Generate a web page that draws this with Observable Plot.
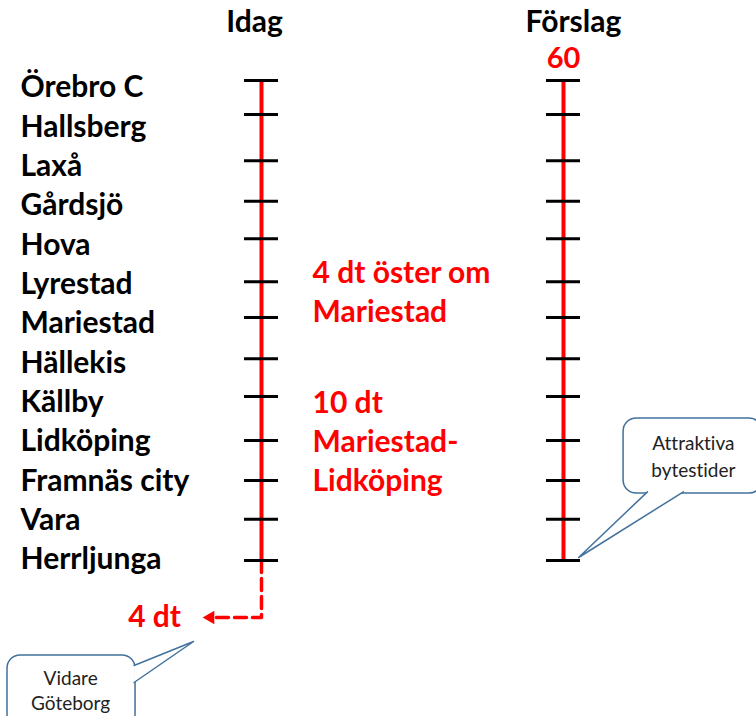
<!DOCTYPE html>
<html>
<head>
<meta charset="utf-8">
<script src="https://cdn.jsdelivr.net/npm/d3@7"></script>
<script src="https://cdn.jsdelivr.net/npm/@observablehq/plot@0.6"></script>
<style>
  html, body { margin: 0; padding: 0; background: #fff; }
  #chart svg { display: block; }
  #chart svg text { font-variant-ligatures: none; }
</style>
</head>
<body>
<div id="chart"></div>
<script>
// ---- data ----
const stations = ["Örebro C", "Hallsberg", "Laxå", "Gårdsjö", "Hova", "Lyrestad", "Mariestad",
  "Hällekis", "Källby", "Lidköping", "Framnäs city", "Vara", "Herrljunga"];
// travel time (minutes) from Örebro C
const stationTime = [0, 10.2, 24.1, 36.2, 47.5, 60.4, 71.1, 83.5, 94.8, 108, 120, 131.6, 144];
const columns = ["Idag", "Förslag"];
const forslagLabel = ["60"];
const idagNotes = ["4 dt öster om\nMariestad", "10 dt\nMariestad-\nLidköping"];
const southLabel = ["4 dt"];
const calloutTexts = ["Attraktiva\nbytestider", "Vidare\nGöteborg"];

// ---- layout (abstract units: x = column, y = minutes) ----
const colX = {"Idag": 1, "Förslag": 2};
const tickHalf = 0.0563;
const labelX = 0.202;
const t0 = stationTime[0], tEnd = stationTime[stationTime.length - 1];
const labelTop = 2.2, labelStep = 11.8;
const RED = "#ff0000", BLUE = "#41719c";
const font = "Lato, 'Open Sans', sans-serif";

const ticks = [];
for (const c of columns) for (const t of stationTime) ticks.push({c, t});

const stationRows = stations.map((s, i) => ({s, y: labelTop + i * labelStep}));
const colTitles = [{c: "Idag", x: 0.977}, {c: "Förslag", x: 2.033}];

const dashY = 161.1;
const dashPath = [
  {x: colX.Idag, y: tEnd},
  {x: colX.Idag, y: dashY},
  {x: 0.848, y: dashY}
];

const calloutR = {x1: 2.199, x2: 2.659, y1: 101.4, y2: 123.9};
const pointerR = [{x: 2.278, y: 123.4}, {x: 2.050, y: 143.1}, {x: 2.397, y: 123.4}];
const calloutL = {x1: 0.159, x2: 0.583, y1: 172.5, y2: 194};
const pointerL = [{x: 0.578, y: 175.5}, {x: 0.775, y: 168.3}, {x: 0.578, y: 180.6}];

const chart = Plot.plot({
  width: 756,
  height: 716,
  margin: 0,
  x: {domain: [0.1358, 2.6391], axis: null},
  y: {domain: [-24, 190.8], reverse: true, axis: null},
  style: {fontFamily: font, background: "white"},
  marks: [
    // column titles
    Plot.text(colTitles, {x: "x", y: -17.4, text: "c", fontSize: 30, fontWeight: "bold", fill: "black"}),
    // "60" headway label
    Plot.text(forslagLabel, {x: colX["Förslag"], y: -6.6, text: d => d, fontSize: 29, fontWeight: "bold", fill: RED}),
    // station labels
    Plot.text(stationRows, {x: labelX, y: "y", text: "s", textAnchor: "start", fontSize: 30, fontWeight: "bold", fill: "black"}),
    // red line for each column
    Plot.ruleX(columns, {x: c => colX[c], y1: t0, y2: tEnd, stroke: RED, strokeWidth: 4}),
    // dashed continuation towards Göteborg
    Plot.line(dashPath, {x: "x", y: "y", stroke: RED, strokeWidth: 3.5, strokeDasharray: "12,6"}),
    Plot.dot([0], {x: 0.831, y: dashY, symbol: "triangle", r: 5, rotate: -90, fill: RED, stroke: null}),
    // station ticks
    Plot.ruleY(ticks, {y: "t", x1: d => colX[d.c] - tickHalf, x2: d => colX[d.c] + tickHalf, stroke: "black", strokeWidth: 3}),
    // red notes
    Plot.text([idagNotes[0]], {x: 1.169, y: 62.85, text: d => d, textAnchor: "start", lineHeight: 1.3, fontSize: 30, fontWeight: "bold", fill: RED}),
    Plot.text([idagNotes[1]], {x: 1.169, y: 107.85, text: d => d, textAnchor: "start", lineHeight: 1.3, fontSize: 30, fontWeight: "bold", fill: RED}),
    Plot.text(southLabel, {x: 0.646, y: dashY, text: d => d, fontSize: 30, fontWeight: "bold", fill: RED}),
    // callout right
    Plot.rect([calloutR], {x1: "x1", x2: "x2", y1: "y1", y2: "y2", rx: 13, fill: "white", stroke: BLUE, strokeWidth: 1.5}),
    Plot.line(pointerR, {x: "x", y: "y", fill: "white", stroke: BLUE, strokeWidth: 1.5, curve: "linear"}),
    Plot.text([calloutTexts[0]], {x: 2.43, y: 112.4, text: d => d, lineHeight: 1.42, fontSize: 19, fill: "#222"}),
    // callout left
    Plot.rect([calloutL], {x1: "x1", x2: "x2", y1: "y1", y2: "y2", rx: 13, fill: "white", stroke: BLUE, strokeWidth: 1.5}),
    Plot.line(pointerL, {x: "x", y: "y", fill: "white", stroke: BLUE, strokeWidth: 1.5, curve: "linear"}),
    Plot.text([calloutTexts[1]], {x: 0.368, y: 182.6, text: d => d, lineHeight: 1.32, fontSize: 19, fill: "#222"})
  ]
});
document.getElementById("chart").appendChild(chart);
</script>
</body>
</html>
